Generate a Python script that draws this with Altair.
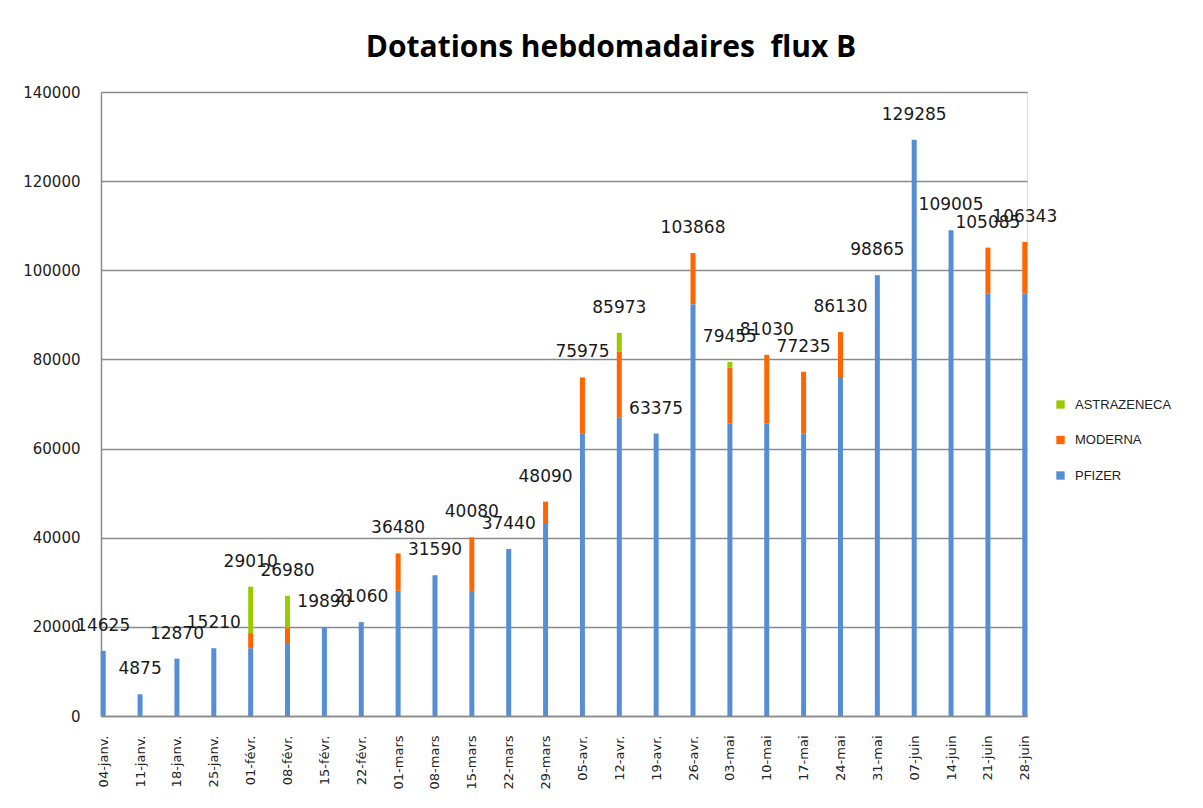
import altair as alt
import pandas as pd

dates = ["04-janv.", "11-janv.", "18-janv.", "25-janv.", "01-févr.", "08-févr.", "15-févr.",
         "22-févr.", "01-mars", "08-mars", "15-mars", "22-mars", "29-mars", "05-avr.",
         "12-avr.", "19-avr.", "26-avr.", "03-mai", "10-mai", "17-mai", "24-mai", "31-mai",
         "07-juin", "14-juin", "21-juin", "28-juin"]

totals = [14625, 4875, 12870, 15210, 29010, 26980, 19890, 21060, 36480, 31590, 40080, 37440,
          48090, 75975, 85973, 63375, 103868, 79455, 81030, 77235, 86130, 98865, 129285,
          109005, 105085, 106343]

pfizer = [14625, 4875, 12870, 15210, 15210, 16380, 19890, 21060, 28080, 31590, 28080, 37440,
          43290, 63375, 67000, 63375, 92400, 65610, 65610, 63375, 76050, 98865, 129285,
          109005, 94770, 94770]
moderna = [0, 0, 0, 0, 3400, 3400, 0, 0, 8400, 0, 12000, 0, 4800, 12600, 14800, 0, 11468,
           12600, 15420, 13860, 10080, 0, 0, 0, 10315, 11573]
astrazeneca = [0, 0, 0, 0, 10400, 7200, 0, 0, 0, 0, 0, 0, 0, 0, 4173, 0, 0, 1245, 0, 0, 0,
               0, 0, 0, 0, 0]

series = ["ASTRAZENECA", "MODERNA", "PFIZER"]
colors = ["#99CC00", "#FF6600", "#558ED5"]
y_ticks = [0, 20000, 40000, 60000, 80000, 100000, 120000, 140000]

rows = []
for i, d in enumerate(dates):
    rows.append({"date": d, "vaccin": "PFIZER", "rank": 0, "value": pfizer[i]})
    rows.append({"date": d, "vaccin": "MODERNA", "rank": 1, "value": moderna[i]})
    rows.append({"date": d, "vaccin": "ASTRAZENECA", "rank": 2, "value": astrazeneca[i]})
df = pd.DataFrame(rows)
df_tot = pd.DataFrame({"date": dates, "total": totals})

xenc = alt.X("date:N", sort=dates, title=None,
             scale=alt.Scale(type="point", padding=0.06),
             axis=alt.Axis(labelAngle=-90, labelFont="DejaVu Sans", labelFontSize=13,
                           labelColor="#222222", ticks=False, tickSize=0, labelPadding=19,
                           domainColor="#8a8a8a", domainWidth=1.5, grid=False))

bars = alt.Chart(df).mark_bar(size=5).encode(
    x=xenc,
    y=alt.Y("value:Q", stack="zero", title=None,
            scale=alt.Scale(domain=[0, 140000], nice=False),
            axis=alt.Axis(values=y_ticks, format="d", labelFont="DejaVu Sans",
                          labelFontSize=15, labelColor="#222222", ticks=False, tickSize=0,
                          labelPadding=21, domainColor="#8a8a8a", domainWidth=1.5,
                          gridColor="#8a8a8a", gridWidth=1.5)),
    color=alt.Color("vaccin:N", scale=alt.Scale(domain=series, range=colors),
                    legend=alt.Legend(title=None, orient="none", legendX=953, legendY=306,
                                      symbolType="square", symbolSize=70,
                                      symbolStrokeWidth=0, labelFont="Liberation Sans",
                                      labelFontSize=13, labelColor="#222222",
                                      rowPadding=21.5, labelOffset=8)),
    order=alt.Order("rank:Q", sort="ascending"),
)

labels = alt.Chart(df_tot).mark_text(
    font="DejaVu Sans", fontSize=17, color="#1a1a1a", baseline="alphabetic", dy=-20
).encode(
    x=alt.X("date:N", sort=dates),
    y=alt.Y("total:Q"),
    text=alt.Text("total:Q", format="d"),
)

chart = alt.layer(bars, labels).properties(
    width=926, height=624,
    title=alt.TitleParams("Dotations hebdomadaires\u00a0 flux B", font="Open Sans", fontSize=30,
                          fontWeight="bold", color="#000000", anchor="middle", dx=47,
                          baseline="alphabetic", offset=-2),
    autosize=alt.AutoSizeParams(type="none"),
    padding={"left": 93, "top": 84, "right": 160, "bottom": 90},
).configure_view(stroke=None).configure(background="white")

chart.save("out.html", embed_options={"renderer": "svg", "actions": False})
